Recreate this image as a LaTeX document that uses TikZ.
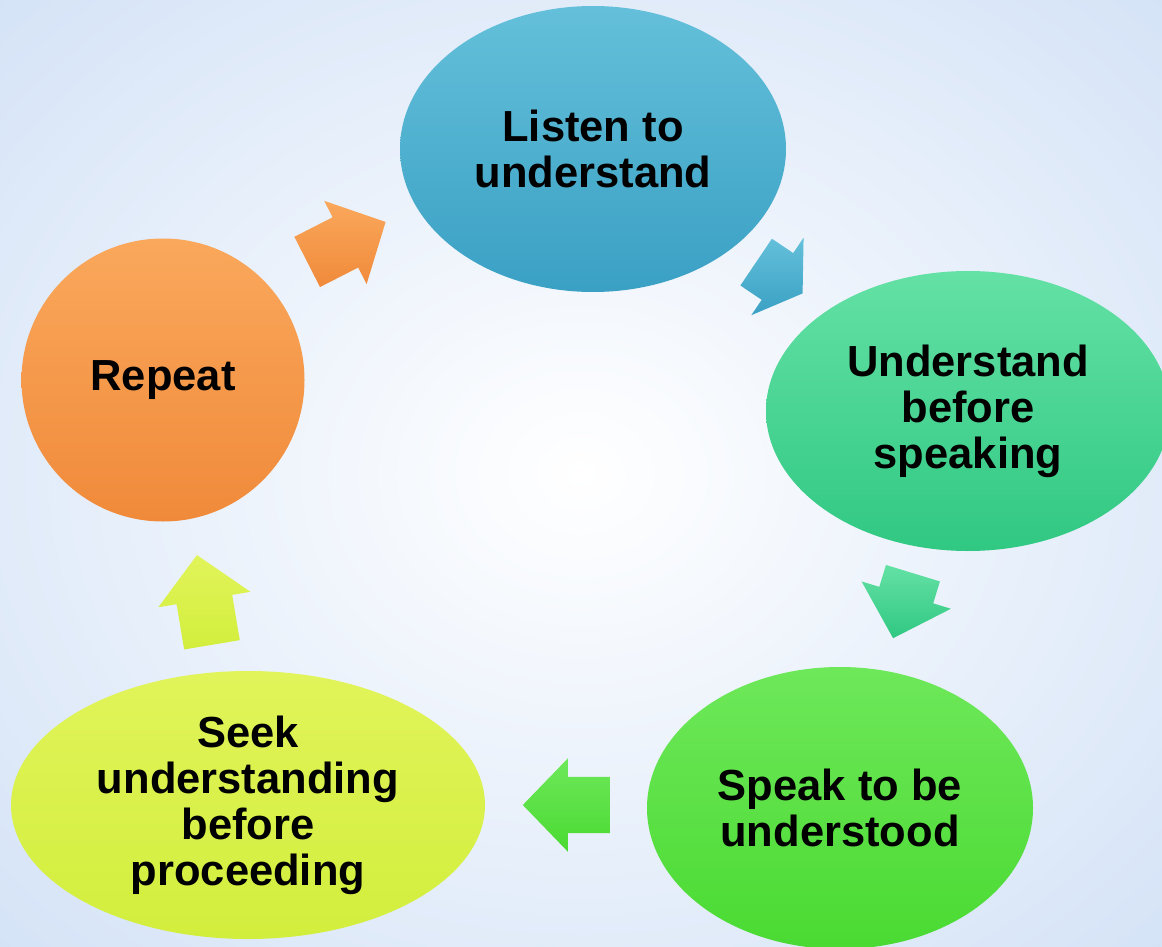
\documentclass[tikz,border=0pt]{standalone}
\usepackage{fontspec}
\setmainfont{Liberation Sans}
\usetikzlibrary{shapes.geometric, shapes.arrows}

\definecolor{bgblue}{RGB}{208,224,246}
\definecolor{listentop}{RGB}{100,192,218}
\definecolor{listenbot}{RGB}{58,160,196}
\definecolor{undertop}{RGB}{100,225,165}
\definecolor{underbot}{RGB}{48,200,130}
\definecolor{speaktop}{RGB}{110,232,90}
\definecolor{speakbot}{RGB}{74,218,50}
\definecolor{seektop}{RGB}{225,244,90}
\definecolor{seekbot}{RGB}{210,238,60}
\definecolor{reptop}{RGB}{250,168,92}
\definecolor{repbot}{RGB}{240,138,58}

\tikzset{
  bubble/.style={ellipse, inner sep=0pt, align=center,
    font=\bfseries\fontsize{43.5}{46}\selectfont},
  blockarrow/.style={single arrow, anchor=tail, inner xsep=0pt, inner ysep=28pt,
    single arrow head extend=18.5pt, single arrow tip angle=92}
}

\begin{document}
\begin{tikzpicture}[x=1pt, y=-1pt]
  \clip (0,0) rectangle (1162,947);
  \shade[inner color=white, outer color=bgblue] (-330,-280) rectangle (1492,1227);

  % the five steps
  \node[bubble, top color=listentop, bottom color=listenbot,
        minimum width=386pt, minimum height=286pt] (listen) at (593,149) {Listen to\\understand};
  \node[bubble, top color=undertop, bottom color=underbot,
        minimum width=404pt, minimum height=280pt] (understand) at (968,411) {Understand\\before\\speaking};
  \node[bubble, top color=speaktop, bottom color=speakbot,
        minimum width=386pt, minimum height=282pt] (speak) at (840,808) {Speak to be\\understood};
  \node[bubble, top color=seektop, bottom color=seekbot,
        minimum width=474pt, minimum height=268pt] (seek) at (248,805) {Seek\\understanding\\before\\proceeding};
  \node[bubble, top color=reptop, bottom color=repbot,
        minimum width=283pt, minimum height=283pt] (repeat) at (163,380) {Repeat};

  % arrows between the steps
  \node[blockarrow, top color=reptop, bottom color=repbot,
        minimum height=88pt, rotate=27] (rep2lis) at (307,262) {};
  \node[blockarrow, top color=listentop, bottom color=listenbot,
        minimum height=56pt, single arrow tip angle=114, rotate=-34] (lis2und) at (756,262) {};
  \node[blockarrow, top color=undertop, bottom color=underbot,
        minimum height=68pt, rotate=-107] (und2spk) at (913,573) {};
  \node[blockarrow, top color=speaktop, bottom color=speakbot,
        minimum height=87pt, rotate=180] (spk2sek) at (610,805) {};
  \node[blockarrow, top color=seektop, bottom color=seekbot,
        minimum height=91pt, rotate=99.5] (sek2rep) at (212,645) {};
\end{tikzpicture}
\end{document}
